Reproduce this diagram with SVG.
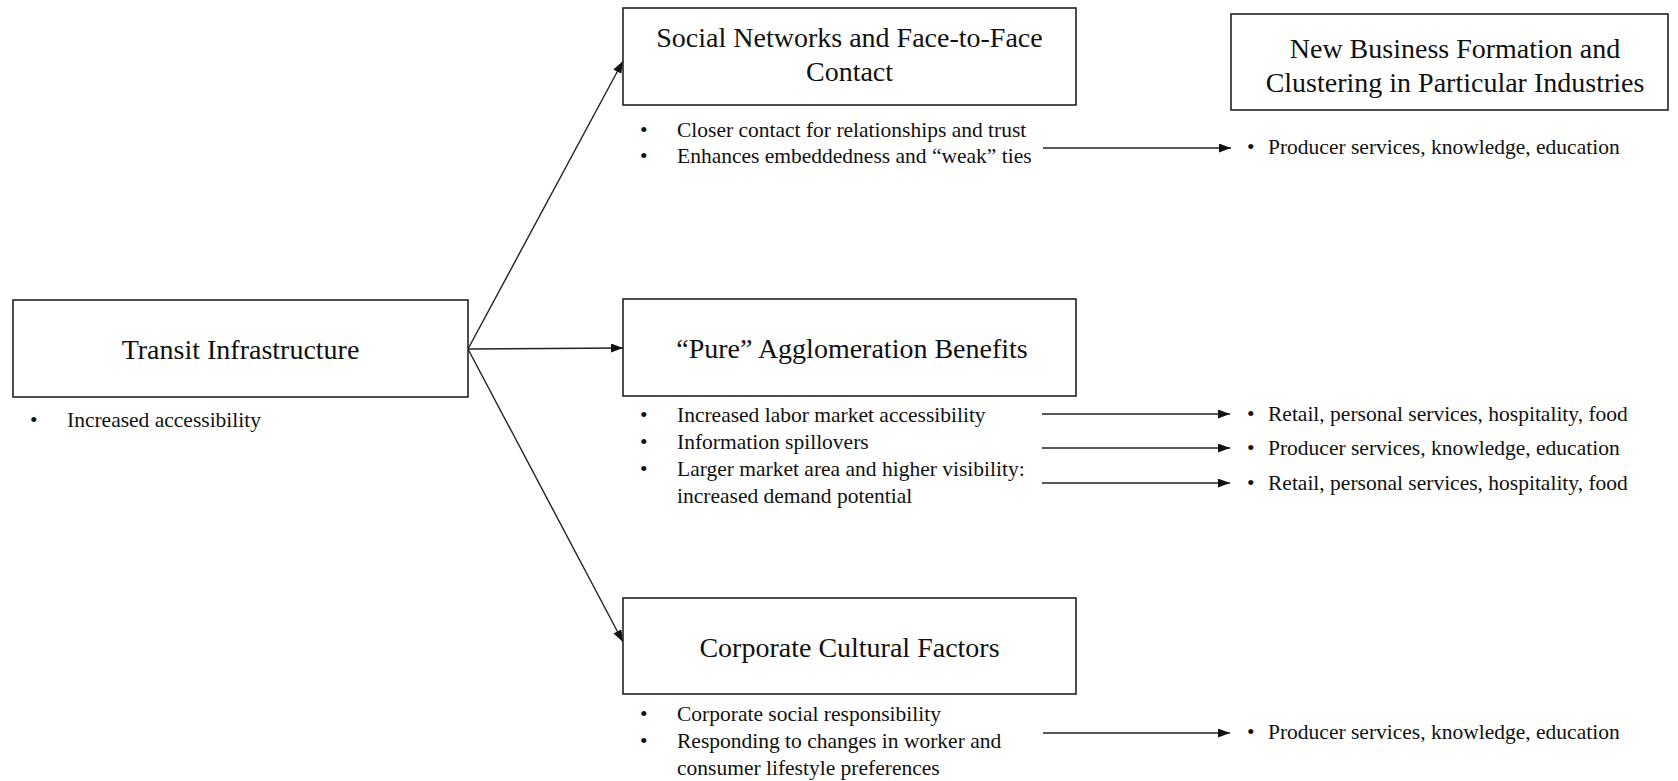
<svg xmlns="http://www.w3.org/2000/svg" width="1678" height="781" viewBox="0 0 1678 781">
<defs>
<style>
.box{fill:#fff;stroke:#222;stroke-width:1.6}
.title{font-size:28px;fill:#111;text-anchor:middle}
.txt{font-size:21.5px;fill:#111}
.con{stroke:#222;stroke-width:1.4;fill:none}
</style>
<marker id="ah" markerUnits="userSpaceOnUse" markerWidth="13" markerHeight="10" refX="12" refY="4.5" orient="auto">
<path d="M0,0 L12,4.5 L0,9 z" fill="#111"/>
</marker>
</defs>
<rect width="1678" height="781" fill="#fff"/>
<g id="connectors">
<line class="con" x1="468" y1="349" x2="623" y2="61" marker-end="url(#ah)"/>
<line class="con" x1="468" y1="349" x2="623" y2="348" marker-end="url(#ah)"/>
<line class="con" x1="468" y1="349" x2="623" y2="642" marker-end="url(#ah)"/>
<line class="con" x1="1043" y1="148" x2="1231" y2="148" marker-end="url(#ah)"/>
<line class="con" x1="1042" y1="414" x2="1230" y2="414" marker-end="url(#ah)"/>
<line class="con" x1="1042" y1="448" x2="1230" y2="448" marker-end="url(#ah)"/>
<line class="con" x1="1042" y1="483" x2="1230" y2="483" marker-end="url(#ah)"/>
<line class="con" x1="1043" y1="733" x2="1230" y2="733" marker-end="url(#ah)"/>
</g>
<g font-family="'Liberation Serif', 'Times New Roman', serif">
<g id="transit">
<rect class="box" x="13" y="300" width="455" height="97"/>
<text class="title" x="240.5" y="359">Transit Infrastructure</text>
<text class="txt" x="30" y="427">•</text>
<text class="txt" x="67" y="427">Increased accessibility</text>
</g>
<g id="social">
<rect class="box" x="623" y="8" width="453" height="97"/>
<text class="title" x="849.5" y="47">Social Networks and Face-to-Face</text>
<text class="title" x="849.5" y="81">Contact</text>
<text class="txt" x="640" y="137">•</text>
<text class="txt" x="677" y="137">Closer contact for relationships and trust</text>
<text class="txt" x="640" y="163">•</text>
<text class="txt" x="677" y="163">Enhances embeddedness and “weak” ties</text>
</g>
<g id="business">
<rect class="box" x="1231" y="14" width="437" height="96"/>
<text class="title" x="1455" y="57.5">New Business Formation and</text>
<text class="title" x="1455" y="91.5">Clustering in Particular Industries</text>
</g>
<g id="pure">
<rect class="box" x="623" y="299" width="453" height="97"/>
<text class="title" x="852" y="358">“Pure” Agglomeration Benefits</text>
<text class="txt" x="640" y="422">•</text>
<text class="txt" x="677" y="422">Increased labor market accessibility</text>
<text class="txt" x="640" y="449">•</text>
<text class="txt" x="677" y="449">Information spillovers</text>
<text class="txt" x="640" y="476">•</text>
<text class="txt" x="677" y="476">Larger market area and higher visibility:</text>
<text class="txt" x="677" y="503">increased demand potential</text>
</g>
<g id="corporate">
<rect class="box" x="623" y="598" width="453" height="96"/>
<text class="title" x="849.5" y="657">Corporate Cultural Factors</text>
<text class="txt" x="640" y="721">•</text>
<text class="txt" x="677" y="721">Corporate social responsibility</text>
<text class="txt" x="640" y="748">•</text>
<text class="txt" x="677" y="748">Responding to changes in worker and</text>
<text class="txt" x="677" y="775">consumer lifestyle preferences</text>
</g>
<g id="outcomes">
<text class="txt" x="1247" y="154">•</text>
<text class="txt" x="1268" y="154">Producer services, knowledge, education</text>
<text class="txt" x="1247" y="421">•</text>
<text class="txt" x="1268" y="421">Retail, personal services, hospitality, food</text>
<text class="txt" x="1247" y="455">•</text>
<text class="txt" x="1268" y="455">Producer services, knowledge, education</text>
<text class="txt" x="1247" y="490">•</text>
<text class="txt" x="1268" y="490">Retail, personal services, hospitality, food</text>
<text class="txt" x="1247" y="739">•</text>
<text class="txt" x="1268" y="739">Producer services, knowledge, education</text>
</g>
</g>
</svg>
